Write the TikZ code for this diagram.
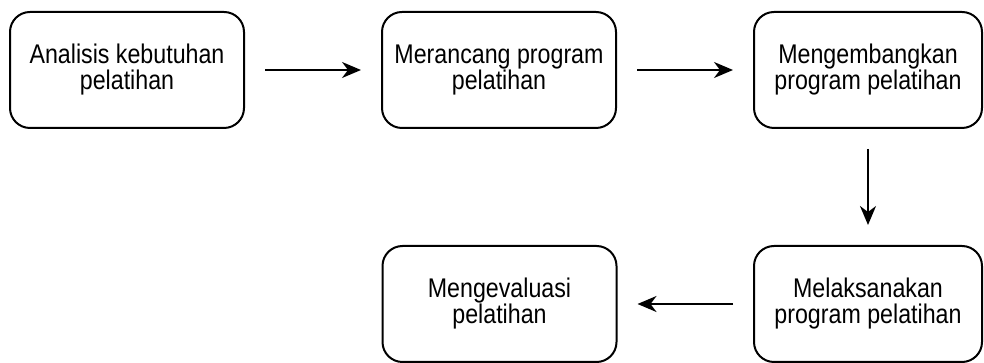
\documentclass[tikz,border=0pt]{standalone}
\usepackage{fontspec}
\newfontfamily\boxfont[FakeStretch=0.86]{Liberation Sans}
\usepackage{tikz}
\usetikzlibrary{arrows.meta}

\tikzset{
	stepbox/.style={draw, line width=1pt, rounded corners=10pt, align=center,
		minimum width=117pt, minimum height=58pt, inner sep=0pt,
		font=\boxfont\fontsize{13.5}{13}\selectfont},
	flow/.style={line width=1pt, -{Stealth[length=9.5pt,width=8pt,inset=3pt]},
		shorten <=10pt, shorten >=10pt}
}

\begin{document}
\begin{tikzpicture}[x=0.5pt, y=0.5pt]
			\useasboundingbox (0,0) rectangle (984,363);
			\node[stepbox] (analisis) at (127,293) {Analisis kebutuhan\\pelatihan};
			\node[stepbox] (merancang) at (499,293) {Merancang program\\pelatihan};
			\node[stepbox, minimum width=114pt] (mengembangkan) at (868,293) {Mengembangkan\\program pelatihan};
			\node[stepbox, minimum width=114pt] (melaksanakan) at (868,59) {Melaksanakan\\program pelatihan};
			\node[stepbox] (evaluasi) at (499.5,59) {Mengevaluasi\\pelatihan};
			
			\draw[flow] (analisis) -- (merancang);
			\draw[flow] (merancang) -- (mengembangkan);
			\draw[flow] (mengembangkan) -- (melaksanakan);
			\draw[flow] (melaksanakan) -- (evaluasi);
		\end{tikzpicture}
\end{document}
